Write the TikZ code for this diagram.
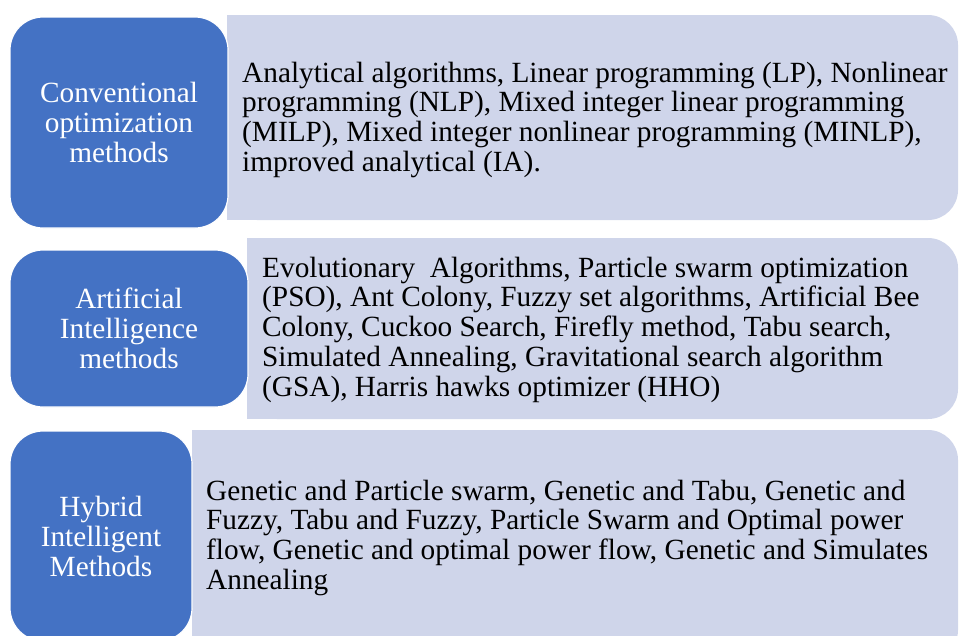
\documentclass[tikz,border=0pt]{standalone}
\usepackage{fontspec}
\setmainfont{Liberation Serif}
\definecolor{catblue}{HTML}{4472C4}
\definecolor{panelfill}{HTML}{CFD5EA}
\begin{document}
\begin{tikzpicture}[x=1pt,y=-1pt,
  category/.style={rectangle, rounded corners=33pt, fill=catblue, draw=white,
    line width=1.2pt, text=white, align=center, inner sep=0pt,
    font=\rmfamily\fontsize{29.3}{30}\selectfont},
  panel/.style={fill=panelfill},
  listing/.style={anchor=base west, align=left, inner sep=0pt, text=black,
    font=\rmfamily\fontsize{29.3}{29.8}\selectfont}]
\useasboundingbox (0,0) rectangle (960,635);
\clip (0,0) rectangle (960,635);

% light panels: rounded on the right, square on the left
\fill[panel, rounded corners=30pt] (227,15) rectangle (958,220);
\fill[panel] (227,15) rectangle (400,220);
\fill[panel, rounded corners=30pt] (247,238) rectangle (958,419);
\fill[panel] (247,238) rectangle (400,419);
\fill[panel, rounded corners=30pt] (192,430) rectangle (958,660);
\fill[panel] (192,430) rectangle (400,660);

% category boxes
\node[category, minimum width=218pt, minimum height=211pt] (conv) at (119,122.5)
  {Conventional\\optimization\\methods};
\node[category, minimum width=238pt, minimum height=157pt] (ai) at (129,328.5)
  {Artificial\\Intelligence\\methods};
\node[category, minimum width=182pt, minimum height=210pt] (hyb) at (101,536)
  {Hybrid\\Intelligent\\Methods};

% method lists (anchored at the baseline of their last line)
\node[listing] (convlist) at (242,171.4)
  {Analytical algorithms, Linear programming (LP), Nonlinear\\
   programming (NLP), Mixed integer linear programming\\
   (MILP), Mixed integer nonlinear programming (MINLP),\\
   improved analytical (IA).};
\node[listing] (ailist) at (262,396.2)
  {Evolutionary\ \ Algorithms, Particle swarm optimization\\
   (PSO), Ant Colony, Fuzzy set algorithms, Artificial Bee\\
   Colony, Cuckoo Search, Firefly method, Tabu search,\\
   Simulated Annealing, Gravitational search algorithm\\
   (GSA), Harris hawks optimizer (HHO)};
\node[listing] (hyblist) at (206,589.4)
  {Genetic and Particle swarm, Genetic and Tabu, Genetic and\\
   Fuzzy, Tabu and Fuzzy, Particle Swarm and Optimal power\\
   flow, Genetic and optimal power flow, Genetic and Simulates\\
   Annealing};
\end{tikzpicture}
\end{document}
